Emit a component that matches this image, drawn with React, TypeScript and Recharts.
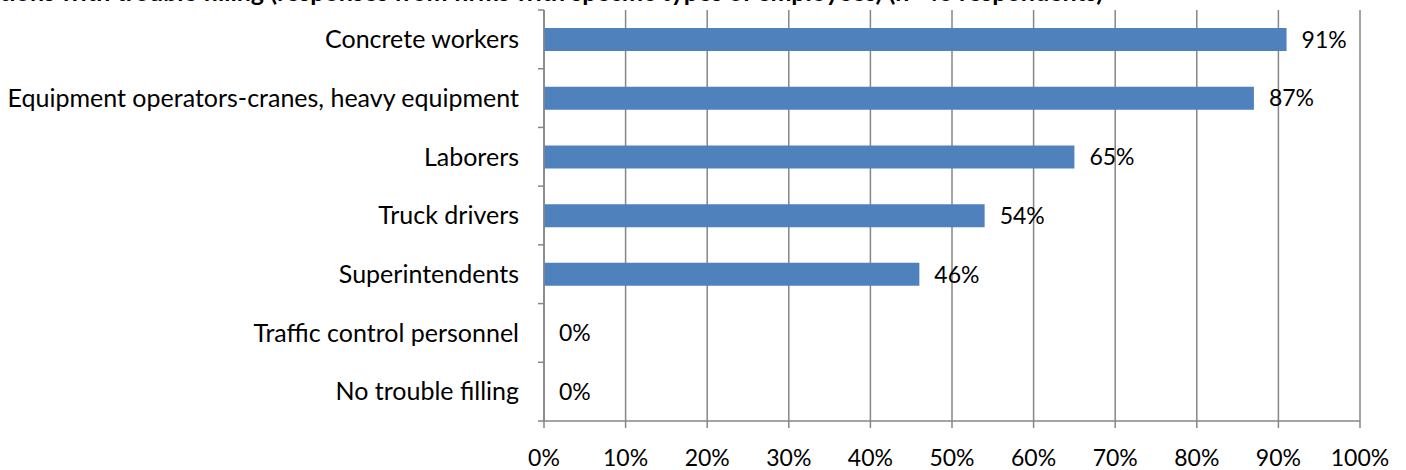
import React from "react";
import { BarChart, Bar, XAxis, YAxis, CartesianGrid, LabelList } from "recharts";

const categories = [
  "Concrete workers",
  "Equipment operators-cranes, heavy equipment",
  "Laborers",
  "Truck drivers",
  "Superintendents",
  "Traffic control personnel",
  "No trouble filling",
];
const values = [91, 87, 65, 54, 46, 0, 0];
const xTicks = [0, 10, 20, 30, 40, 50, 60, 70, 80, 90, 100];
const titleText =
  "Positions with trouble filling (responses from firms with specific types of employees) (n=46 respondents)";

const data = categories.map((name, i) => ({ name, value: values[i] }));

const FONT = "Lato, 'Noto Sans', sans-serif";
const GRID = "#868686";
const TOP = 10;
const BOTTOM = 49;
const HEIGHT = 470;
const BAND_HALF = (HEIGHT - TOP - BOTTOM) / categories.length / 2;

const YTick = (props: any) => {
  const { x, y, payload, index } = props;
  const axisX = x + 25;
  return (
    <g>
      <text x={x} y={y} dy="0.35em" textAnchor="end" fontSize={25} fontFamily={FONT} fill="#000">
        {payload.value}
      </text>
      <line x1={axisX - 6} x2={axisX} y1={y - BAND_HALF} y2={y - BAND_HALF} stroke={GRID} strokeWidth={1.5} />
      {index === categories.length - 1 && (
        <line x1={axisX - 6} x2={axisX} y1={y + BAND_HALF} y2={y + BAND_HALF} stroke={GRID} strokeWidth={1.5} />
      )}
    </g>
  );
};

export default function App() {
  return (
    <div style={{ position: "absolute", left: 0, top: 0, width: 1406, height: 470, background: "#fff", overflow: "hidden" }}>
      <div
        style={{
          position: "absolute",
          right: 303,
          top: -24,
          whiteSpace: "nowrap",
          fontFamily: FONT,
          fontWeight: 700,
          fontSize: 25,
          lineHeight: "30px",
          color: "#000",
        }}
      >
        {titleText}
      </div>
      <BarChart
        width={1406}
        height={HEIGHT}
        data={data}
        layout="vertical"
        margin={{ top: TOP, right: 46, bottom: 9, left: 0 }}
        barCategoryGap={0}
      >
        <CartesianGrid horizontal={false} vertical={true} stroke={GRID} strokeWidth={1.5} />
        <XAxis
          type="number"
          domain={[0, 100]}
          ticks={xTicks}
          interval={0}
          tickFormatter={(v: number) => `${v}%`}
          height={40}
          tickSize={7}
          tickMargin={22}
          stroke={GRID}
          strokeWidth={1.5}
          tick={{ fontSize: 23, fontFamily: FONT, fill: "#000" }}
        />
        <YAxis
          type="category"
          dataKey="name"
          width={544}
          interval={0}
          tickSize={6}
          tickMargin={19}
          tickLine={false}
          stroke={GRID}
          strokeWidth={1.5}
          tick={<YTick />}
        />
        <Bar dataKey="value" fill="#4F81BD" barSize={23} minPointSize={0.01} isAnimationActive={false}>
          <LabelList
            dataKey="value"
            position="right"
            offset={15}
            formatter={(v: any) => `${v}%`}
            style={{ fontSize: 23, fontFamily: FONT, fill: "#000" }}
          />
        </Bar>
      </BarChart>
    </div>
  );
}
